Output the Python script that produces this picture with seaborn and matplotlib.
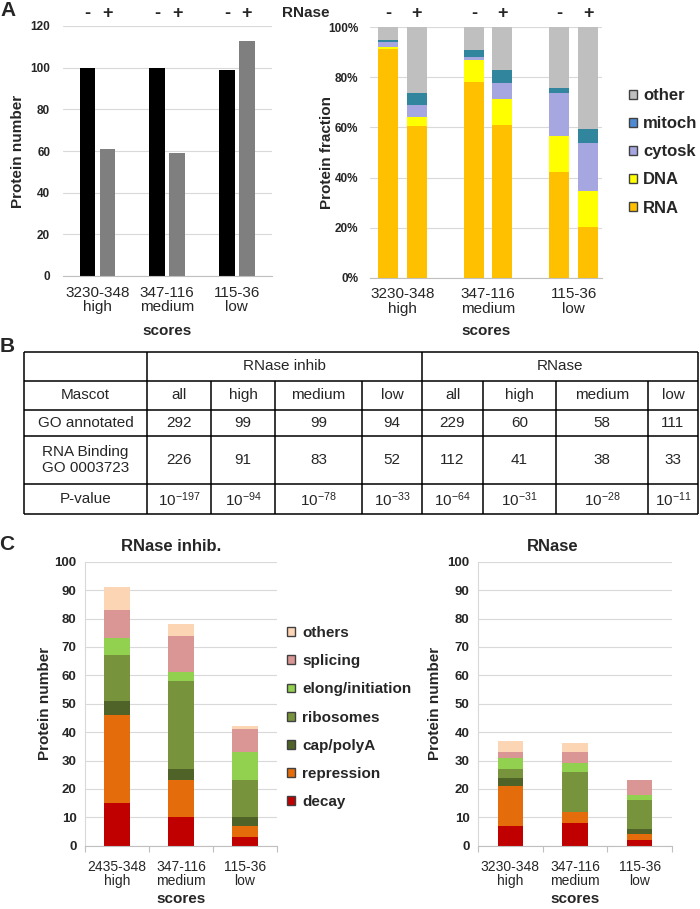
import numpy as np
import pandas as pd
import seaborn as sns
import matplotlib.pyplot as plt
from matplotlib.patches import Patch

# ---------------- data ----------------
scores_a = ['3230-348\nhigh', '347-116\nmedium', '115-36\nlow']
rnase_state = ['-', '+']

# A left: protein number without (-) / with (+) RNase
prot_minus = [100, 100, 99]
prot_plus = [61, 59, 113]

# A right: protein fraction in %, bars high-, high+, medium-, medium+, low-, low+
frac_cats = ['RNA', 'DNA', 'cytosk', 'mitoch', 'other']
frac_rna = [91.2, 60.7, 78.0, 61.0, 42.3, 20.1]
frac_dna = [0.9, 3.3, 9.1, 10.2, 14.4, 14.5]
frac_cytosk = [2.0, 4.8, 0.9, 6.7, 17.1, 19.3]
frac_mitoch = [1.0, 5.0, 2.9, 5.2, 2.0, 5.5]
frac_other = [4.9, 26.2, 9.1, 16.9, 24.2, 40.6]
pct_labels = ['0%', '20%', '40%', '60%', '80%', '100%']

# B: table
tab_groups = ['RNase inhib', 'RNase']
tab_cols = ['all', 'high', 'medium', 'low']
tab_rows = ['Mascot', 'GO annotated', 'RNA Binding\nGO 0003723', 'P-value']
go_annotated = [292, 99, 99, 94, 229, 60, 58, 111]
rna_binding = [226, 91, 83, 52, 112, 41, 38, 33]
p_exponent = [-197, -94, -78, -33, -64, -31, -28, -11]

# C: functional classes, values for high / medium / low
func_cats = ['decay', 'repression', 'cap/polyA', 'ribosomes',
             'elong/initiation', 'splicing', 'others']
scores_inhib = ['2435-348\nhigh', '347-116\nmedium', '115-36\nlow']
scores_rnase = ['3230-348\nhigh', '347-116\nmedium', '115-36\nlow']
inhib_decay = [15, 10, 3]
inhib_repression = [31, 13, 4]
inhib_cap = [5, 4, 3]
inhib_ribosomes = [16, 31, 13]
inhib_elong = [6, 3, 10]
inhib_splicing = [10, 13, 8]
inhib_others = [8, 4, 1]
rnase_decay = [7, 8, 2]
rnase_repression = [14, 4, 2]
rnase_cap = [3, 0, 2]
rnase_ribosomes = [3, 14, 10]
rnase_elong = [4, 3, 2]
rnase_splicing = [2, 4, 5]
rnase_others = [4, 3, 0]

frac_colors = {'RNA': '#ffc000', 'DNA': '#ffff00', 'cytosk': '#a6a6e0',
               'mitoch': '#31859c', 'other': '#bfbfbf'}
mitoch_legend = '#4f8bd3'
func_colors = dict(zip(func_cats, ['#c00000', '#e46c0a', '#4f6228', '#77933c',
                                   '#92d050', '#d99694', '#fcd5b5']))

# ---------------- style ----------------
sns.set_style("whitegrid", {"grid.color": "#d9d9d9", "axes.edgecolor": "#bfbfbf"})
plt.rcParams['font.family'] = ['Liberation Sans', 'DejaVu Sans']
plt.rcParams['mathtext.fontset'] = 'custom'
plt.rcParams['mathtext.rm'] = 'Liberation Sans'
plt.rcParams['mathtext.default'] = 'regular'

W, H = 700, 909
fig = plt.figure(figsize=(7, 9.09), dpi=100)


def add_ax(x0, y0, x1, y1):
    return fig.add_axes([x0 / W, 1 - y1 / H, (x1 - x0) / W, (y1 - y0) / H])


def frac(v0, v1, v):
    return (v - v0) / (v1 - v0)


def stacked(ax, df, cats, colors, order, width, hue=False, gap=0):
    cum = df[cats].cumsum(axis=1)
    for cat in reversed(cats):
        if hue:
            kw = dict(hue=df['rnase'], hue_order=rnase_state,
                      palette={s: colors[cat] for s in rnase_state}, gap=gap, legend=False)
        else:
            kw = dict(color=colors[cat])
        sns.barplot(x=df['score'], y=cum[cat], order=order, width=width, saturation=1,
                    errorbar=None, linewidth=0, ax=ax, **kw)


def pm_labels(ax, y):
    centers = sorted(set(round(p.get_x() + p.get_width() / 2, 3) for p in ax.patches))
    for i, cx in enumerate(centers):
        ax.text(cx, y, rnase_state[i % 2], transform=ax.get_xaxis_transform(),
                ha='center', va='center', fontsize=13, fontweight='bold', clip_on=False)


def style_axis(ax, ylab, ylab_x, xlab_y, ytick_size, xtick_size, ypad, xpad):
    ax.set_ylabel(ylab, fontsize=11, fontweight='bold', va='center')
    ax.yaxis.set_label_coords(ylab_x, 0.5)
    ax.set_xlabel('scores', fontsize=11, fontweight='bold', va='center')
    ax.xaxis.set_label_coords(0.5, xlab_y)
    ax.tick_params(axis='y', length=0, pad=ypad, labelsize=ytick_size)
    ax.tick_params(axis='x', which='major', length=0, pad=xpad, labelsize=xtick_size)
    for t in ax.get_yticklabels():
        t.set_fontweight('bold')
    for t in ax.get_xticklabels():
        t.set_linespacing(1.05)
    for s in ['top', 'right', 'left']:
        ax.spines[s].set_visible(False)
    ax.spines['bottom'].set_color('#bfbfbf')
    ax.grid(axis='y', color='#d9d9d9', linewidth=0.8)
    ax.set_axisbelow(True)


# ---------------- panel A left ----------------
axA1 = add_ax(62.7, 26, 271.7, 276)
dfA1 = pd.DataFrame({'score': scores_a * 2,
                     'rnase': ['-'] * 3 + ['+'] * 3,
                     'count': prot_minus + prot_plus})
sns.barplot(data=dfA1, x='score', y='count', hue='rnase', hue_order=rnase_state,
            order=scores_a, palette=['black', '#7f7f7f'], width=0.574, gap=0.216,
            saturation=1, errorbar=None, linewidth=0, legend=False, ax=axA1)
axA1.set_ylim(0, 120)
axA1.set_xlim(-0.5, 2.5)
axA1.set_yticks(range(0, 121, 20))
style_axis(axA1, 'Protein number', frac(62.7, 271.7, 18.5), frac(276, 26, 331),
           8.5, 11, 9, 7)
pm_labels(axA1, frac(276, 26, 13.3))

# ---------------- panel A right ----------------
axA2 = add_ax(370, 27.3, 602, 277.7)
dfA2 = pd.DataFrame({'score': np.repeat(scores_a, 2), 'rnase': rnase_state * 3,
                     'RNA': frac_rna, 'DNA': frac_dna, 'cytosk': frac_cytosk,
                     'mitoch': frac_mitoch, 'other': frac_other})
stacked(axA2, dfA2, frac_cats, frac_colors, scores_a, 0.667, hue=True, gap=0.30)
axA2.set_ylim(0, 100)
axA2.set_xlim(-0.38, 2.33)
axA2.set_yticks(range(0, 101, 20))
axA2.set_yticklabels(pct_labels)
style_axis(axA2, 'Protein fraction', frac(370, 602, 327), frac(277.7, 27.3, 331),
           8.5, 11, 8.5, 7)
pm_labels(axA2, frac(277.7, 27.3, 13.3))

legA = [Patch(facecolor=frac_colors['other'], edgecolor='#404040', label='other'),
        Patch(facecolor=mitoch_legend, edgecolor='#404040', label='mitoch'),
        Patch(facecolor=frac_colors['cytosk'], edgecolor='#404040', label='cytosk'),
        Patch(facecolor=frac_colors['DNA'], edgecolor='#404040', label='DNA'),
        Patch(facecolor=frac_colors['RNA'], edgecolor='#404040', label='RNA')]
fig.legend(handles=legA, loc='upper left', bbox_to_anchor=(629 / W, 1 - 88 / H),
           frameon=False, borderpad=0, borderaxespad=0, handlelength=0.45,
           handleheight=0.45, handletextpad=0.4, labelspacing=0.79,
           prop={'weight': 'bold', 'size': 12})

fig.text(306 / W, 1 - 13.3 / H, 'RNase', ha='center', va='center', fontsize=11,
         fontweight='bold')

# ---------------- panel B table ----------------
col_edges = [24.3, 146.7, 211, 275, 362, 422, 483, 556, 648, 698]
row_edges = [351.7, 380.7, 410, 436, 484.3, 514.3]
axB = add_ax(col_edges[0], row_edges[0], col_edges[-1], row_edges[-1])
axB.set_xlim(col_edges[0], col_edges[-1])
axB.set_ylim(row_edges[-1], row_edges[0])
axB.axis('off')
lw = 1.1
axB.hlines(row_edges, col_edges[0], col_edges[-1], color='black', lw=lw, clip_on=False)
axB.vlines([col_edges[0], col_edges[1], col_edges[5], col_edges[-1]],
           row_edges[0], row_edges[-1], color='black', lw=lw, clip_on=False)
axB.vlines([col_edges[i] for i in (2, 3, 4, 6, 7, 8)], row_edges[1], row_edges[-1],
           color='black', lw=lw, clip_on=False)

col_mid = [(a + b) / 2 for a, b in zip(col_edges[:-1], col_edges[1:])]
row_mid = [(a + b) / 2 for a, b in zip(row_edges[:-1], row_edges[1:])]
tkw = dict(ha='center', va='center', fontsize=11)
axB.text((col_edges[1] + col_edges[5]) / 2, row_mid[0], tab_groups[0], **tkw)
axB.text((col_edges[5] + col_edges[-1]) / 2, row_mid[0], tab_groups[1], **tkw)
for r, lab in enumerate(tab_rows):
    axB.text(col_mid[0], row_mid[r + 1], lab, linespacing=1.15, **tkw)
for c in range(8):
    axB.text(col_mid[c + 1], row_mid[1], tab_cols[c % 4], **tkw)
    axB.text(col_mid[c + 1], row_mid[2], str(go_annotated[c]), **tkw)
    axB.text(col_mid[c + 1], row_mid[3], str(rna_binding[c]), **tkw)
    axB.text(col_mid[c + 1], row_mid[4], '$10^{%d}$' % p_exponent[c], **tkw)

# ---------------- panel C ----------------
dfC1 = pd.DataFrame({'score': scores_inhib, 'decay': inhib_decay,
                     'repression': inhib_repression, 'cap/polyA': inhib_cap,
                     'ribosomes': inhib_ribosomes, 'elong/initiation': inhib_elong,
                     'splicing': inhib_splicing, 'others': inhib_others})
dfC2 = pd.DataFrame({'score': scores_rnase, 'decay': rnase_decay,
                     'repression': rnase_repression, 'cap/polyA': rnase_cap,
                     'ribosomes': rnase_ribosomes, 'elong/initiation': rnase_elong,
                     'splicing': rnase_splicing, 'others': rnase_others})

for rect, df, order, ylx in [((85, 561.7, 277, 845.7), dfC1, scores_inhib, 45),
                             ((478, 561.7, 672, 845.7), dfC2, scores_rnase, 435)]:
    ax = add_ax(*rect)
    stacked(ax, df, func_cats, func_colors, order, 0.395)
    ax.set_ylim(0, 100)
    ax.set_xlim(-0.5, 2.5)
    ax.set_yticks(range(0, 101, 10))
    style_axis(ax, 'Protein number', frac(rect[0], rect[2], ylx),
               frac(845.7, 561.7, 899), 9.5, 10, 6, 10)
    ax.spines['left'].set_visible(True)
    ax.spines['left'].set_color('#d9d9d9')
    ax.set_xticks([-0.5, 0.5, 1.5, 2.5], minor=True)
    ax.tick_params(axis='x', which='minor', bottom=True, length=4, width=0.8,
                   color='#bfbfbf')

fig.text(171 / W, 1 - 546.7 / H, 'RNase inhib.', ha='center', va='center',
         fontsize=12, fontweight='bold')
fig.text(552.5 / W, 1 - 546.7 / H, 'RNase', ha='center', va='center',
         fontsize=12, fontweight='bold')

legC = [Patch(facecolor=func_colors[c], edgecolor='#404040', label=c)
        for c in reversed(func_cats)]
fig.legend(handles=legC, loc='upper left', bbox_to_anchor=(287 / W, 1 - 626 / H),
           frameon=False, borderpad=0, borderaxespad=0, handlelength=0.5,
           handleheight=0.5, handletextpad=0.5, labelspacing=0.93,
           prop={'weight': 'bold', 'size': 11})

# panel letters
for lab, x, y in [('A', 8, 11), ('B', 7, 347), ('C', 7, 545)]:
    fig.text(x / W, 1 - y / H, lab, ha='center', va='center', fontsize=15,
             fontweight='bold')

fig.savefig('out.png', dpi=100, facecolor='white')
